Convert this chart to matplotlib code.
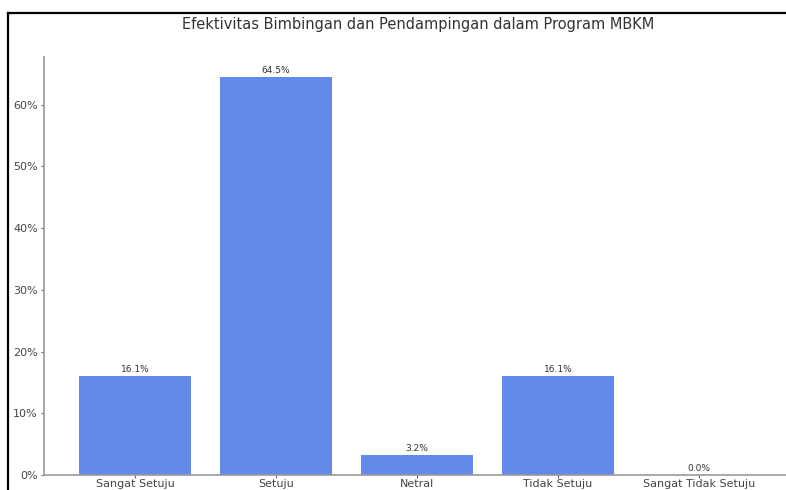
import matplotlib.pyplot as plt
from matplotlib.lines import Line2D
from matplotlib.ticker import PercentFormatter

categories = ['Sangat Setuju', 'Setuju', 'Netral', 'Tidak Setuju', 'Sangat Tidak Setuju']
values = [16.1, 64.5, 3.2, 16.1, 0.0]

W, H = 786, 490
fig = plt.figure(figsize=(W / 100, H / 100), dpi=100)
fig.patch.set_facecolor('white')

# axes placed in pixel coords: left 44, right ~790 (cropped), bottom 475, top 57
ax = fig.add_axes([44 / W, (H - 475) / H, (790 - 44) / W, (475 - 57) / H])

ax.bar(range(len(categories)), values, width=0.8, color='#6389ea')
for i, v in enumerate(values):
    ax.text(i, v + 0.3, f'{v:.1f}%', ha='center', va='bottom', fontsize=6.5, color='#333333')

ax.set_xticks(range(len(categories)))
ax.set_xticklabels(categories)
ax.set_xlim(-0.645, 4.645)
ax.set_ylim(0, 67.7)
ax.set_yticks([0, 10, 20, 30, 40, 50, 60])
ax.yaxis.set_major_formatter(PercentFormatter(decimals=0))
ax.tick_params(labelsize=8, colors='#666666', labelcolor='#444444', length=2.5)
ax.tick_params(axis='x', pad=0.5)
ax.tick_params(axis='y', pad=2)

for s in ['top', 'right']:
    ax.spines[s].set_visible(False)
for s in ['left', 'bottom']:
    ax.spines[s].set_color('#999999')
    ax.spines[s].set_linewidth(1.2)

fig.text(418 / W, 1 - 25 / H, 'Efektivitas Bimbingan dan Pendampingan dalam Program MBKM',
         ha='center', va='center', fontsize=10.5, color='#333333')

# black frame from the screenshot
fig.add_artist(Line2D([8 / W, 1.0], [1 - 13 / H, 1 - 13 / H], color='black', linewidth=1.6,
                      transform=fig.transFigure))
fig.add_artist(Line2D([8 / W, 8 / W], [0, 1 - 13 / H], color='black', linewidth=1.6,
                      transform=fig.transFigure))

plt.savefig('out.png', dpi=100)
plt.close()
